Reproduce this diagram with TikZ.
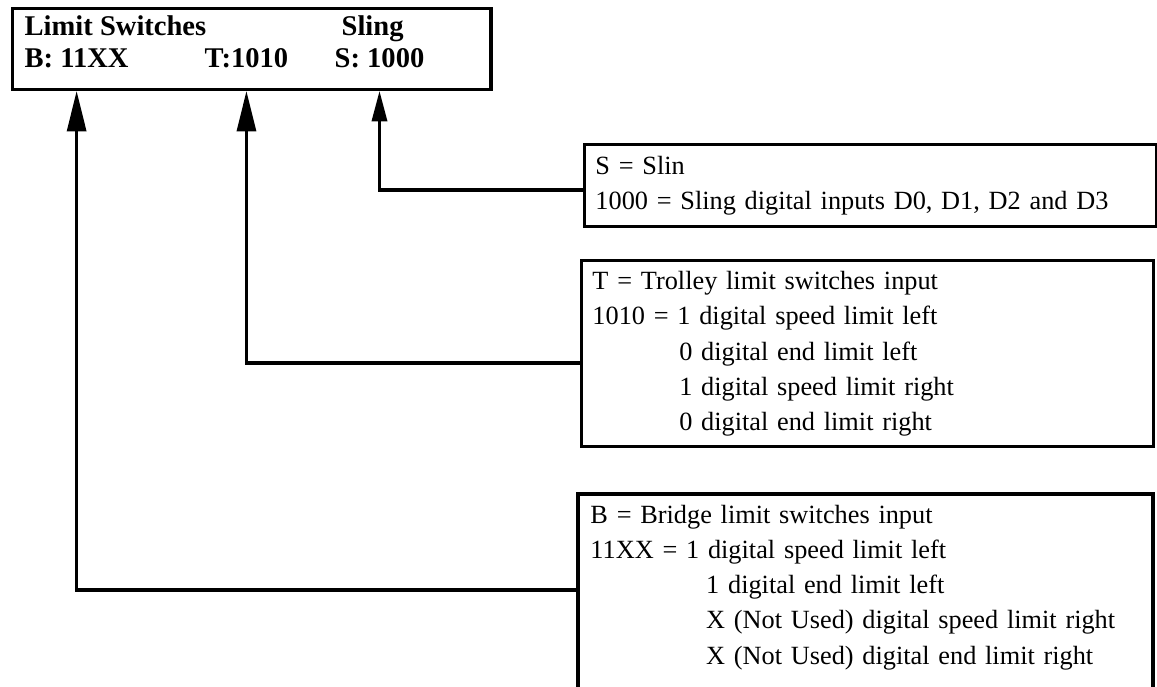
\documentclass[tikz,border=0pt]{standalone}
\usepackage{fontspec}
\setmainfont{Liberation Serif}
\usetikzlibrary{arrows.meta}

\tikzset{
  heading/.style={font=\bfseries\fontsize{20.3pt}{22.8pt}\selectfont, anchor=base west, inner sep=0pt},
  descbox/.style={draw, anchor=north west, align=left, text width=13.75cm, inner xsep=0.27cm, inner ysep=0.25cm, font=\fontsize{18.7pt}{24.9pt}\selectfont},
  bigtip/.style={-{Triangle[length=28.5pt, width=14.2pt, line width=0pt]}},
  smalltip/.style={-{Triangle[length=21.3pt, width=11.4pt, line width=0pt]}},
}

\begin{document}
\begin{tikzpicture}[x=0.025cm, y=-0.025cm, line width=2.4pt]
\useasboundingbox (0,0) rectangle (1157,686);
% Box with the switch codes
\node[draw, anchor=north west, minimum width=11.95cm, minimum height=2.025cm] (codes) at (11,7) {};
\node[heading] (limits) at (23,35) {Limit Switches};
\node[heading] (slinghead) at (340,35) {Sling};
\node[heading] (bcode) at (23,67) {B: 11XX};
\node[heading] (tcode) at (203,67) {T:1010};
\node[heading] (scode) at (333,67) {S: 1000};
% Description boxes
\node[descbox, minimum height=2.05cm] (sdesc) at (583,143)
  {S = Slin\\1000 = Sling digital inputs D0, D1, D2 and D3};
\node[descbox, minimum height=4.65cm] (tdesc) at (580,259)
  {T = Trolley limit switches input\\
   1010 = 1 digital speed limit left\\
   \hspace*{3.3em}0 digital end limit left\\
   \hspace*{3.3em}1 digital speed limit right\\
   \hspace*{3.3em}0 digital end limit right};
\node[descbox, draw=none] (bdesc) at (578,494)
  {B = Bridge limit switches input\\
   11XX = 1 digital speed limit left\\
   \hspace*{4.4em}1 digital end limit left\\
   \hspace*{4.4em}X (Not Used) digital speed limit right\\
   \hspace*{4.4em}X (Not Used) digital end limit right};
% Bridge box runs off the bottom edge
\draw (bdesc.north west |- 0,700) -- (bdesc.north west) -- (bdesc.north east) -- (bdesc.north east |- 0,700);
% Connectors
\coordinate (sin) at (sdesc.west |- 0,190);
\coordinate (tin) at (tdesc.west |- 0,363);
\coordinate (bin) at (bdesc.west |- 0,590);
\draw[smalltip] (sin) -| (scode.south |- codes.south);
\draw[bigtip] (tin) -| (tcode.south |- codes.south);
\draw[bigtip] (bin) -| (bcode.south |- codes.south);
\end{tikzpicture}
\end{document}
